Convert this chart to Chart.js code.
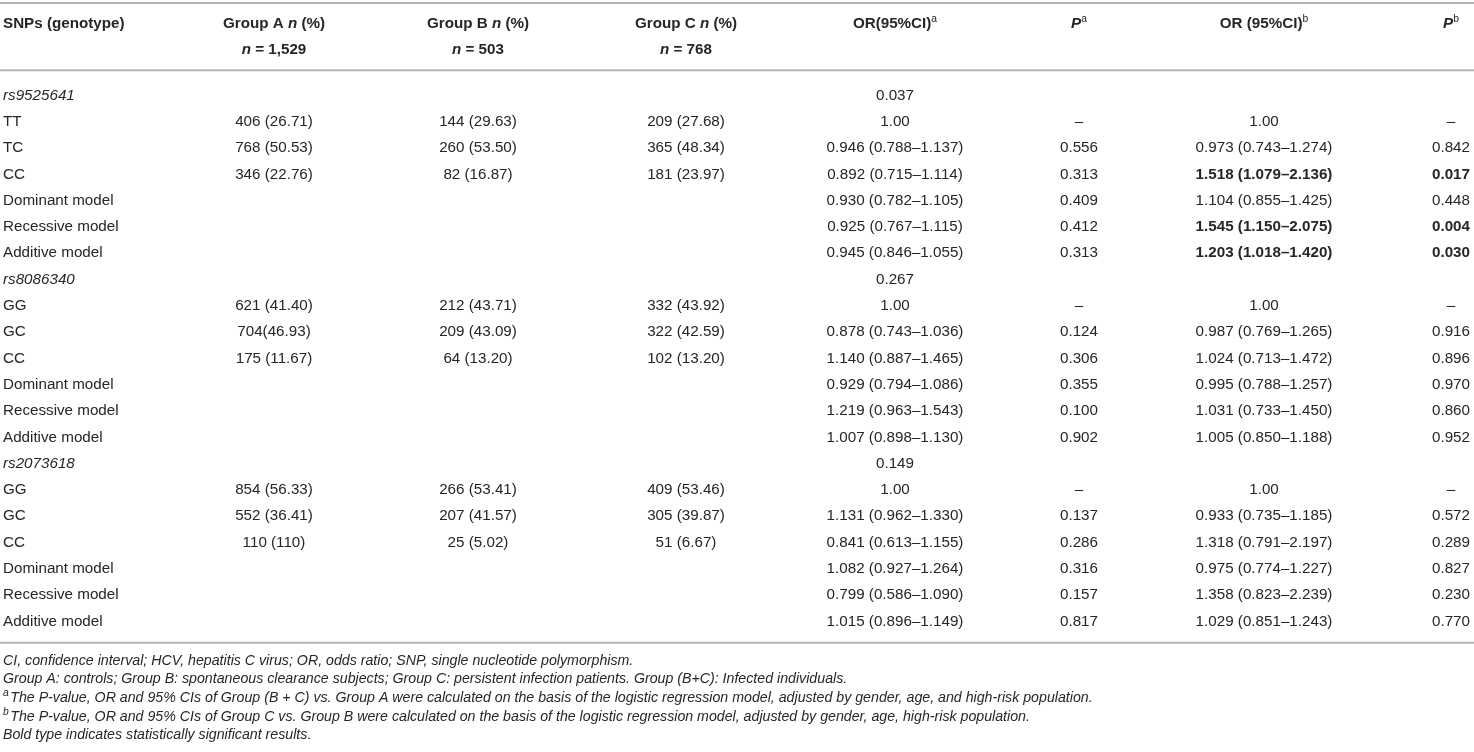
<!DOCTYPE html>
<html>
<head>
<meta charset="utf-8">
<script src="https://cdn.jsdelivr.net/npm/chart.js@4.4.1/dist/chart.umd.min.js"></script>
<style>
  html, body { margin: 0; padding: 0; background: #fff; }
  #wrap { width: 1474px; height: 752px; }
</style>
</head>
<body>
<div id="wrap"><canvas id="tbl" width="1474" height="752"></canvas></div>
<script>
// table contents, one array per column
const rowLabels = ['rs9525641', 'TT', 'TC', 'CC', 'Dominant model', 'Recessive model', 'Additive model',
  'rs8086340', 'GG', 'GC', 'CC', 'Dominant model', 'Recessive model', 'Additive model',
  'rs2073618', 'GG', 'GC', 'CC', 'Dominant model', 'Recessive model', 'Additive model'];
const snpRows = [0, 7, 14];

const groupA = ['', '406 (26.71)', '768 (50.53)', '346 (22.76)', '', '', '',
  '', '621 (41.40)', '704(46.93)', '175 (11.67)', '', '', '',
  '', '854 (56.33)', '552 (36.41)', '110 (110)', '', '', ''];
const groupB = ['', '144 (29.63)', '260 (53.50)', '82 (16.87)', '', '', '',
  '', '212 (43.71)', '209 (43.09)', '64 (13.20)', '', '', '',
  '', '266 (53.41)', '207 (41.57)', '25 (5.02)', '', '', ''];
const groupC = ['', '209 (27.68)', '365 (48.34)', '181 (23.97)', '', '', '',
  '', '332 (43.92)', '322 (42.59)', '102 (13.20)', '', '', '',
  '', '409 (53.46)', '305 (39.87)', '51 (6.67)', '', '', ''];
const orA = ['0.037', '1.00', '0.946 (0.788–1.137)', '0.892 (0.715–1.114)', '0.930 (0.782–1.105)', '0.925 (0.767–1.115)', '0.945 (0.846–1.055)',
  '0.267', '1.00', '0.878 (0.743–1.036)', '1.140 (0.887–1.465)', '0.929 (0.794–1.086)', '1.219 (0.963–1.543)', '1.007 (0.898–1.130)',
  '0.149', '1.00', '1.131 (0.962–1.330)', '0.841 (0.613–1.155)', '1.082 (0.927–1.264)', '0.799 (0.586–1.090)', '1.015 (0.896–1.149)'];
const pA = ['', '–', '0.556', '0.313', '0.409', '0.412', '0.313',
  '', '–', '0.124', '0.306', '0.355', '0.100', '0.902',
  '', '–', '0.137', '0.286', '0.316', '0.157', '0.817'];
const orB = ['', '1.00', '0.973 (0.743–1.274)', '1.518 (1.079–2.136)', '1.104 (0.855–1.425)', '1.545 (1.150–2.075)', '1.203 (1.018–1.420)',
  '', '1.00', '0.987 (0.769–1.265)', '1.024 (0.713–1.472)', '0.995 (0.788–1.257)', '1.031 (0.733–1.450)', '1.005 (0.850–1.188)',
  '', '1.00', '0.933 (0.735–1.185)', '1.318 (0.791–2.197)', '0.975 (0.774–1.227)', '1.358 (0.823–2.239)', '1.029 (0.851–1.243)'];
const pB = ['', '–', '0.842', '0.017', '0.448', '0.004', '0.030',
  '', '–', '0.916', '0.896', '0.970', '0.860', '0.952',
  '', '–', '0.572', '0.289', '0.827', '0.230', '0.770'];
// significant results (rows of the OR/P columns for group C vs B)
const boldRowsB = [3, 5, 6];

const groupSizes = ['1,529', '503', '768'];
const footnotes = [
  'CI, confidence interval; HCV, hepatitis C virus; OR, odds ratio; SNP, single nucleotide polymorphism.',
  'Group A: controls; Group B: spontaneous clearance subjects; Group C: persistent infection patients. Group (B+C): Infected individuals.',
  'The P-value, OR and 95% CIs of Group (B + C) vs. Group A were calculated on the basis of the logistic regression model, adjusted by gender, age, and high-risk population.',
  'The P-value, OR and 95% CIs of Group C vs. Group B were calculated on the basis of the logistic regression model, adjusted by gender, age, high-risk population.',
  'Bold type indicates statistically significant results.'
];
const footMarks = ['', '', 'a', 'b', ''];

// layout
const FONT = '"Liberation Sans", Arial, sans-serif';
const SIZE = 15.2;
const FOOT_SIZE = 14.2;
const TXT = '#262626';
const RULE = '#b4b4b4';
const colX = [3, 274, 478, 686, 895, 1079, 1264, 1451];
const rowTop = 95.5, rowH = 26.3, nRows = rowLabels.length;

const columns = [rowLabels, groupA, groupB, groupC, orA, pA, orB, pB];

function font(style, size) {
  let f = '';
  if (style.includes('i')) f += 'italic ';
  if (style.includes('b')) f += 'bold ';
  return f + size + 'px ' + FONT;
}

// draws a list of runs [{t, s}] where s holds b / i / sup flags
function drawRuns(ctx, runs, x, y, align) {
  const parts = runs.map(r => {
    const sup = (r.s || '').includes('sup');
    const size = sup ? SIZE * 0.68 : (r.size || SIZE);
    ctx.font = font((r.s || '').replace('sup', ''), size);
    return { t: r.t, f: ctx.font, w: ctx.measureText(r.t).width + (r.gap || 0), dy: sup ? -5 : 0 };
  });
  const total = parts.reduce((a, p) => a + p.w, 0);
  let cx = align === 'center' ? x - total / 2 : align === 'right' ? x - total : x;
  ctx.textAlign = 'left';
  ctx.textBaseline = 'middle';
  parts.forEach(p => {
    ctx.font = p.f;
    ctx.fillText(p.t, cx, y + p.dy);
    cx += p.w;
  });
}

const tablePlugin = {
  id: 'tablePlugin',
  afterDatasetsDraw(chart) {
    const ctx = chart.ctx;
    const area = chart.chartArea;
    ctx.save();
    ctx.fillStyle = TXT;

    // cells, placed by the scatter elements
    chart.data.datasets.forEach((ds, d) => {
      const meta = chart.getDatasetMeta(d);
      meta.data.forEach((el, k) => {
        const row = ds.data[k].y;
        const text = columns[d][row];
        let style = '';
        if (d === 0 && snpRows.includes(row)) style = 'i';
        if ((d === 6 || d === 7) && boldRowsB.includes(row)) style = 'b';
        drawRuns(ctx, [{ t: text, s: style }], el.x, el.y, d === 0 ? 'left' : 'center');
      });
    });

    // header
    const xs = chart.scales.x;
    const h1 = area.top - 58.5, h2 = area.top - 32.5;
    drawRuns(ctx, [{ t: 'SNPs (genotype)', s: 'b' }], xs.getPixelForValue(colX[0]), h1, 'left');
    ['A', 'B', 'C'].forEach((g, i) => {
      const x = xs.getPixelForValue(colX[i + 1]);
      drawRuns(ctx, [{ t: 'Group ' + g + ' ', s: 'b' }, { t: 'n', s: 'bi' }, { t: ' (%)', s: 'b' }], x, h1, 'center');
      drawRuns(ctx, [{ t: 'n', s: 'bi' }, { t: ' = ' + groupSizes[i], s: 'b' }], x, h2, 'center');
    });
    drawRuns(ctx, [{ t: 'OR(95%CI)', s: 'b' }, { t: 'a', s: 'sup' }], xs.getPixelForValue(colX[4]), h1, 'center');
    drawRuns(ctx, [{ t: 'P', s: 'bi' }, { t: 'a', s: 'sup' }], xs.getPixelForValue(colX[5]), h1, 'center');
    drawRuns(ctx, [{ t: 'OR (95%CI)', s: 'b' }, { t: 'b', s: 'sup' }], xs.getPixelForValue(colX[6]), h1, 'center');
    drawRuns(ctx, [{ t: 'P', s: 'bi' }, { t: 'b', s: 'sup' }], xs.getPixelForValue(colX[7]), h1, 'center');

    // rules
    ctx.strokeStyle = RULE;
    ctx.lineWidth = 2;
    [3, area.top - 12, area.bottom + 8].forEach(y => {
      ctx.beginPath();
      ctx.moveTo(0, y);
      ctx.lineTo(chart.width, y);
      ctx.stroke();
    });

    // footnotes
    footnotes.forEach((t, i) => {
      const runs = [];
      if (footMarks[i]) runs.push({ t: footMarks[i], s: 'i sup', gap: 1.5 });
      runs.push({ t: t, s: 'i', size: FOOT_SIZE });
      drawRuns(ctx, runs, 3, area.bottom + 26 + i * 18.7, 'left');
    });
    ctx.restore();
  }
};

const datasets = columns.map((col, c) => ({
  label: 'col' + c,
  data: col.map((t, r) => ({ x: colX[c], y: r })).filter(p => col[p.y] !== ''),
  pointRadius: 0,
  showLine: false
}));

new Chart(document.getElementById('tbl'), {
  type: 'scatter',
  data: { datasets },
  options: {
    responsive: false,
    animation: false,
    devicePixelRatio: 1,
    layout: {
      padding: { left: 0, right: 0, top: rowTop - rowH / 2, bottom: 752 - (rowTop + (nRows - 0.5) * rowH) }
    },
    scales: {
      x: { type: 'linear', min: 0, max: 1474, display: false },
      y: { type: 'linear', min: -0.5, max: nRows - 0.5, reverse: true, display: false }
    },
    plugins: { legend: { display: false }, tooltip: { enabled: false } }
  },
  plugins: [tablePlugin]
});
</script>
</body>
</html>
